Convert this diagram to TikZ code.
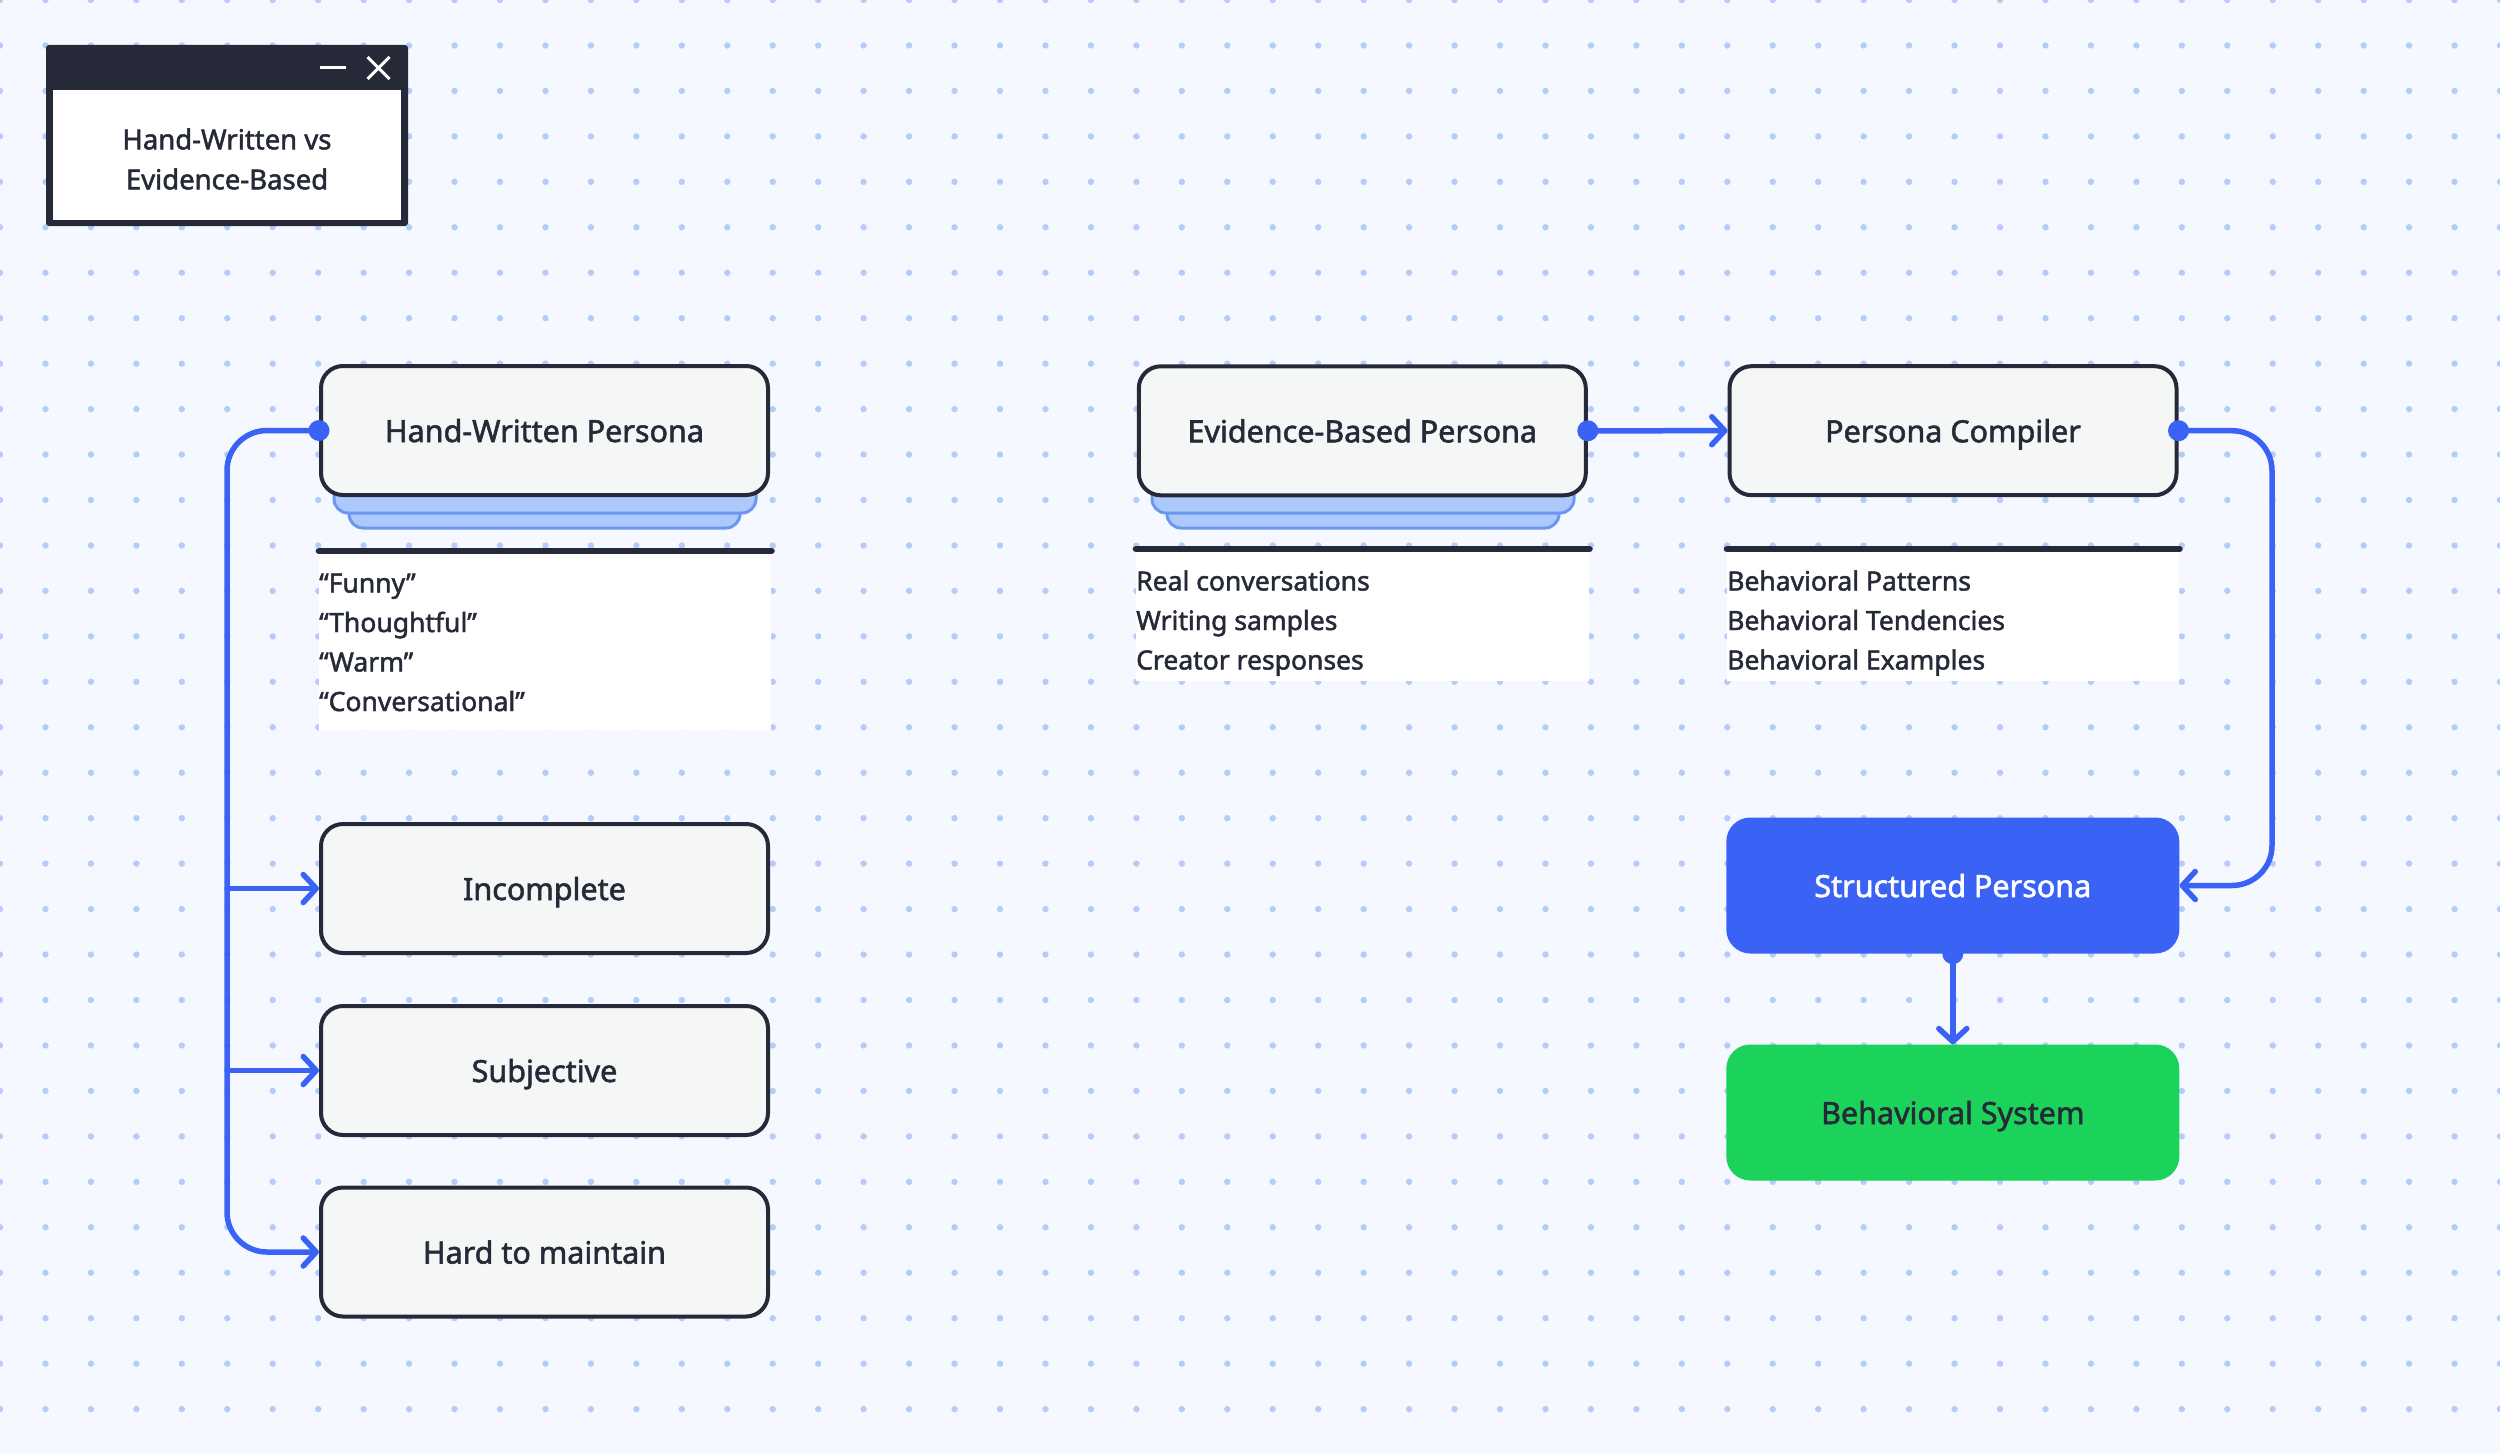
\documentclass[tikz,border=0pt]{standalone}
\usepackage{fontspec}
\setmainfont{Noto Sans}[FakeBold=1.8]
\usetikzlibrary{arrows.meta}
\definecolor{ink}{HTML}{262A38}
\definecolor{boxfill}{HTML}{F5F6F6}
\definecolor{connblue}{HTML}{3A63F6}
\definecolor{spblue}{HTML}{3A63F6}
\definecolor{okgreen}{HTML}{1BD35A}
\definecolor{layerfill}{HTML}{ADC9FB}
\definecolor{layerline}{HTML}{6B97F3}
\definecolor{bgcol}{HTML}{F5F8FE}
\definecolor{dotcol}{HTML}{B5CCFA}
\tikzset{
  procbox/.style={draw=ink, line width=4pt, fill=boxfill, rounded corners=22pt,
    minimum width=447pt, minimum height=129pt, inner sep=0pt, text=ink,
    text height=28pt, text depth=5pt,
    font=\fontsize{30.5}{36}\selectfont},
  solidbox/.style={draw=none, rounded corners=24pt, minimum width=453pt,
    minimum height=136pt, inner sep=0pt, text height=28pt, text depth=5pt,
    font=\fontsize{30.5}{36}\selectfont},
  layer/.style={draw=layerline, fill=layerfill, line width=3pt, rounded corners=14pt},
  notepanel/.style={fill=white, draw=none, inner sep=0pt, anchor=north west},
  noteline/.style={anchor=base west, inner sep=0pt, text=ink, font=\fontsize{26.5}{32}\selectfont},
  conn/.style={draw=connblue, line width=5.5pt, line cap=round, line join=round},
  arr/.style={-{Straight Barb[length=13pt,width=28pt,line cap=round,line join=round]}},
  startdot/.style={fill=connblue},
}
\begin{document}
\begin{tikzpicture}[x=1pt,y=-1pt]
\useasboundingbox (0,0) rectangle (2500,1453);
\fill[bgcol] (0,0) rectangle (2500,1453);
\foreach \i in {0,...,55}{
  \foreach \j in {0,...,31}{
    \fill[dotcol] (\i*45.4545,\j*45.4545) circle (3.2pt);
  }
}

% title window
\node (titlewin) [fill=ink, rounded corners=3pt, minimum width=362pt, minimum height=181pt, inner sep=0pt] at (227,135.5) {};
\node (titlebody) [fill=white, minimum width=348pt, minimum height=129.5pt, inner sep=0pt] at (227,154.75) {};
\node (titletext) [align=center, text=ink, font=\fontsize{27.5}{40}\selectfont] at (227,159) {Hand-Written vs\\Evidence-Based};
\draw[white, line width=3pt] (320,67.7) -- (346,67.7);
\draw[white, line width=3pt] (367.5,57) -- (389.5,79) (367.5,79) -- (389.5,57);

% stacked layers
\draw[layer] (349,480) rectangle (740,528);
\draw[layer] (334,470) rectangle (756,513);
\draw[layer] (1167,480) rectangle (1559,528);
\draw[layer] (1152,470) rectangle (1574,513);

% main boxes
\node (hw) [procbox] at (544.5,430.5) {Hand-Written Persona};
\node (eb) [procbox] at (1362.3,430.8) {Evidence-Based Persona};
\node (pc) [procbox] at (1953,430.7) {Persona Compiler};
\node (inc) [procbox] at (544.5,888.5) {Incomplete};
\node (sub) [procbox] at (544.5,1070.5) {Subjective};
\node (hard) [procbox] at (544.5,1252) {Hard to maintain};
\node (sp) [solidbox, fill=spblue, text=white] at (1952.8,885.5) {Structured Persona};
\node (bs) [solidbox, fill=okgreen, text=ink] at (1952.8,1112.5) {Behavioral System};

% note panels
\node (hwnotes) [notepanel, minimum width=452pt, minimum height=179pt] at (319,551) {};
\draw[ink, line width=6.7pt, line cap=round] (hwnotes.north west) -- (hwnotes.north east);
\node (hwn1) [noteline] at (319,592.5) {“Funny”};
\node (hwn2) [noteline] at (319,632) {“Thoughtful”};
\node (hwn3) [noteline] at (319,671.5) {“Warm”};
\node (hwn4) [noteline] at (319,711) {“Conversational”};

\node (ebnotes) [notepanel, minimum width=453pt, minimum height=132pt] at (1136,549) {};
\draw[ink, line width=6.7pt, line cap=round] (ebnotes.north west) -- (ebnotes.north east);
\node (ebn1) [noteline] at (1136,590.5) {Real conversations};
\node (ebn2) [noteline] at (1136,630) {Writing samples};
\node (ebn3) [noteline] at (1136,669.5) {Creator responses};

\node (pcnotes) [notepanel, minimum width=452pt, minimum height=132pt] at (1727,549) {};
\draw[ink, line width=6.7pt, line cap=round] (pcnotes.north west) -- (pcnotes.north east);
\node (pcn1) [noteline] at (1727,590.5) {Behavioral Patterns};
\node (pcn2) [noteline] at (1727,630) {Behavioral Tendencies};
\node (pcn3) [noteline] at (1727,669.5) {Behavioral Examples};

% connectors
\coordinate (busTop) at (227,430.5);
\coordinate (busBot) at (227,1252);
\coordinate (busInc) at (227,888.5);
\coordinate (busSub) at (227,1070.5);
\draw[conn, arr, rounded corners=40pt] (hw.west) -- (busTop) -- (busBot) -- (hard.west);
\draw[conn, arr] (busInc) -- (inc.west);
\draw[conn, arr] (busSub) -- (sub.west);
\fill[startdot] (hw.west) circle (10.5pt);

\draw[conn, arr] (eb.east) -- (pc.west);
\fill[startdot] (eb.east) circle (10.5pt);

\coordinate (pcTurn) at (2272,430.7);
\coordinate (spTurn) at (2272,885.5);
\draw[conn, arr, rounded corners=40pt] (pc.east) -- (pcTurn) -- (spTurn) -- (sp.east);
\fill[startdot] (pc.east) circle (10.5pt);

\draw[conn, arr] (sp.south) -- (bs.north);
\fill[startdot] (sp.south) circle (10.5pt);
\end{tikzpicture}
\end{document}
